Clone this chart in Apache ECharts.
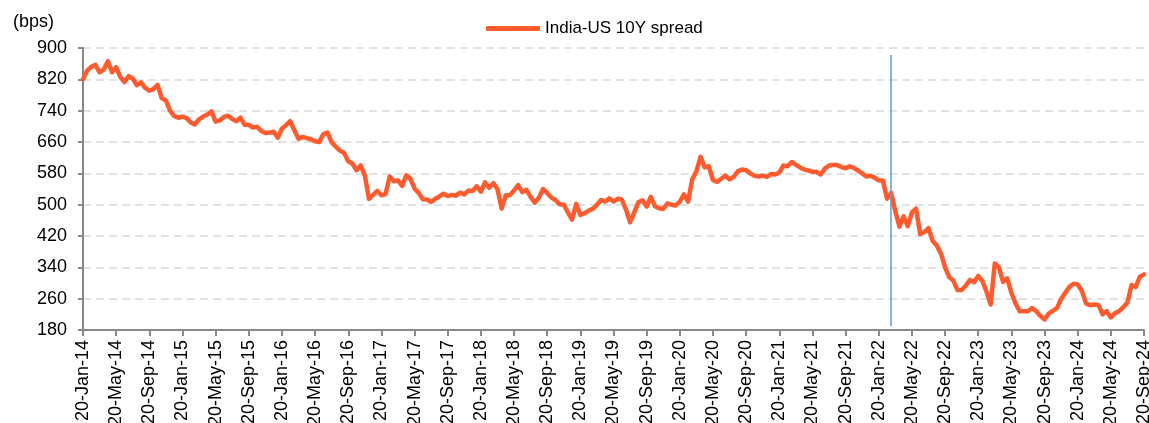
<!DOCTYPE html>
<html>
<head>
<meta charset="utf-8">
<script src="https://cdn.jsdelivr.net/npm/echarts@6/dist/echarts.min.js"></script>
<style>
  html, body { margin: 0; padding: 0; background: #fff; }
  #chart { width: 1149px; height: 423px; }
</style>
</head>
<body>
<div id="chart"></div>
<script>
// India-US 10Y spread, bps, read roughly twice a month (20th and 5th) from Jan-14 to Sep-24
const spread = [
  820, 842, 852, 857, 838, 845, 866, 838, 851, 826,
  813, 828, 822, 805, 812, 798, 791, 795, 806, 772,
  766, 740, 726, 722, 725, 721, 710, 705, 718, 725,
  730, 738, 712, 715, 724, 727, 719, 713, 722, 704,
  704, 697, 699, 688, 683, 684, 686, 671, 694, 703,
  713, 690, 668, 673, 670, 667, 662, 660, 680, 684,
  659, 648, 638, 632, 611,
  605, 588, 600, 575, 515, 525, 535, 524, 527,
  572, 560, 562, 548, 575, 566, 541, 530, 514, 513,
  507, 515, 521, 528, 522, 525, 523, 531, 526, 536,
  535, 547, 533, 557, 543, 555, 540, 490, 524, 524,
  536, 550, 532, 538, 520, 505, 518, 540, 530, 518,
  512, 501, 500, 480, 462, 502, 474, 478, 485, 489,
  500, 512, 508, 516, 508,
  515, 513, 488, 455, 480, 506, 511, 495, 520,
  496, 491, 489, 503, 500, 498, 508, 526, 508, 565,
  585, 622, 595, 598, 563, 558, 566, 574, 565, 571,
  585, 590, 588, 580, 574, 572, 574, 571, 578, 577,
  582, 600, 598, 609, 602, 595, 590, 587, 584, 584,
  577, 592, 600, 601, 601, 596, 593, 598, 594, 587,
  580, 572, 574, 569, 562,
  562, 515, 530, 483, 444, 470, 445, 480, 490,
  425, 430, 440, 408, 396, 375, 340, 315, 306, 282,
  282, 293, 308, 302, 318, 305, 278, 245, 350, 340,
  303, 312, 275, 248, 228, 228, 228, 236, 228, 216,
  207, 222, 229, 236, 259, 275, 290, 298, 296, 280,
  248, 243, 245, 244, 220, 228, 212, 223, 228, 238,
  250, 295, 290, 316, 322
];

const monthNames = ['Jan', 'Feb', 'Mar', 'Apr', 'May', 'Jun', 'Jul', 'Aug', 'Sep', 'Oct', 'Nov', 'Dec'];
const startYear = 14;
const yTicks = { min: 180, max: 900, step: 80 };
const eventIndex = 195;          // vertical marker, early Mar-22
const eventRange = [882, 190];   // marker runs from / to these bps values

// categories: 20th of each month and 5th of the following one
const dates = [];
for (let i = 0; i < spread.length; i++) {
  const m = Math.floor(i / 2) + (i % 2);
  const day = i % 2 ? '5' : '20';
  dates.push(day + '-' + monthNames[m % 12] + '-' + (startYear + Math.floor(m / 12)));
}

const font = "'Liberation Sans', Arial, sans-serif";
const chart = echarts.init(document.getElementById('chart'));

chart.setOption({
  animation: false,
  backgroundColor: '#fff',
  textStyle: { fontFamily: font },
  title: {
    text: '(bps)',
    left: 8,
    top: 8,
    textStyle: { fontFamily: font, fontSize: 18, fontWeight: 'normal', color: '#000' }
  },
  legend: {
    left: 481,
    top: 15,
    icon: 'roundRect',
    itemWidth: 54,
    itemHeight: 5,
    itemGap: 10,
    textStyle: { fontFamily: font, fontSize: 17, color: '#000' },
    data: ['India-US 10Y spread']
  },
  grid: { left: 83, right: 5, top: 48, bottom: 93, containLabel: false, outerBoundsMode: 'none' },
  xAxis: {
    type: 'category',
    boundaryGap: false,
    data: dates,
    axisLine: { lineStyle: { color: '#888', width: 2 } },
    axisTick: { interval: 7, length: 6, lineStyle: { color: '#888', width: 2 } },
    axisLabel: { interval: 7, rotate: 90, margin: 10, fontSize: 18, color: '#000', fontFamily: font, hideOverlap: false },
    splitLine: { show: false }
  },
  yAxis: {
    type: 'value',
    min: yTicks.min,
    max: yTicks.max,
    interval: yTicks.step,
    axisLine: { show: true, lineStyle: { color: '#888', width: 2 } },
    axisTick: { show: true, length: 5, lineStyle: { color: '#888', width: 2 } },
    axisLabel: { margin: 16, fontSize: 18, color: '#000', fontFamily: font },
    splitLine: { lineStyle: { color: '#d9d9d9', width: 1.5, type: [8, 5] } }
  },
  series: [{
    name: 'India-US 10Y spread',
    type: 'line',
    data: spread,
    symbol: 'none',
    lineStyle: { color: '#FF5B2E', width: 4.5, cap: 'round', join: 'round' },
    itemStyle: { color: '#FF5B2E' },
    markLine: {
      silent: true,
      symbol: ['none', 'none'],
      label: { show: false },
      lineStyle: { color: '#5B9BD5', width: 1.5, type: 'solid' },
      data: [[
        { coord: [dates[eventIndex], eventRange[0]] },
        { coord: [dates[eventIndex], eventRange[1]] }
      ]]
    }
  }]
});
</script>
</body>
</html>
